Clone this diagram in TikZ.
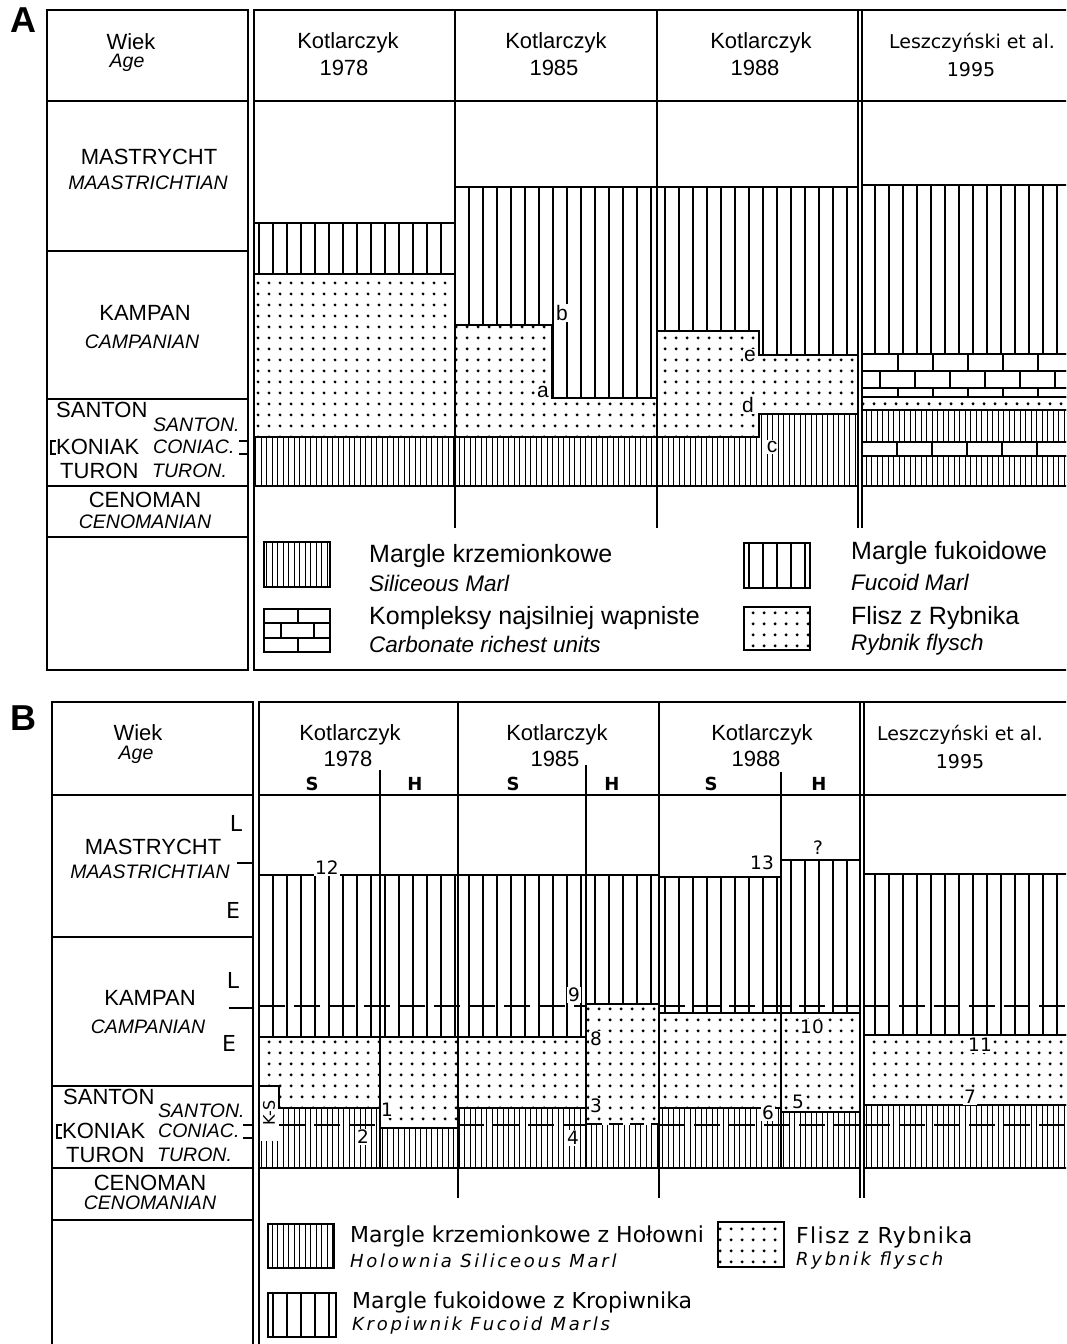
\documentclass[tikz,border=0pt]{standalone}
\usepackage{fontspec}
\setmainfont{Liberation Sans}
\newfontfamily\techfont{DejaVu Sans}
\newfontfamily\techmid{DejaVu Sans}[LetterSpace=6]
\newfontfamily\techwide{DejaVu Sans}[LetterSpace=15]
\usetikzlibrary{patterns}

% lithology fills (1pt = 1px)
\pgfdeclarepatternformonly{fucoidlines}{\pgfpoint{0pt}{-1pt}}{\pgfpoint{14pt}{11pt}}{\pgfpoint{14pt}{10pt}}{%
  \pgfsetlinewidth{1.6pt}%
  \pgfpathmoveto{\pgfpoint{7pt}{-1pt}}\pgfpathlineto{\pgfpoint{7pt}{11pt}}\pgfusepath{stroke}}
\pgfdeclarepatternformonly{siliclines}{\pgfpoint{0pt}{-1pt}}{\pgfpoint{5.5pt}{11pt}}{\pgfpoint{5.5pt}{10pt}}{%
  \pgfsetlinewidth{1.3pt}%
  \pgfpathmoveto{\pgfpoint{2.75pt}{-1pt}}\pgfpathlineto{\pgfpoint{2.75pt}{11pt}}\pgfusepath{stroke}}
\pgfdeclarepatternformonly{flyschdots}{\pgfpoint{0pt}{0pt}}{\pgfpoint{11pt}{11pt}}{\pgfpoint{11pt}{11pt}}{%
  \pgfpathcircle{\pgfpoint{5.5pt}{5.5pt}}{1.75pt}\pgfusepath{fill}}

\tikzset{
  frame/.style={line width=2.9pt},
  rule/.style={line width=2.3pt},
  hair/.style={line width=1.5pt},
  fucoid/.style={draw, line width=1.7pt, pattern=fucoidlines},
  silic/.style={draw, line width=1.7pt, pattern=siliclines},
  flysch/.style={draw, line width=1.7pt, pattern=flyschdots},
  brick/.style={line width=1.7pt},
  dashline/.style={line width=1.6pt, dash pattern=on 26pt off 9pt},
  panel/.style={font=\fontsize{36}{38}\selectfont\bfseries, inner sep=0pt},
  lab/.style={font=\fontsize{22}{24}\selectfont, inner sep=1pt},
  sublab/.style={font=\fontsize{19.5}{21}\selectfont\itshape, inner sep=1pt},
  leg/.style={font=\fontsize{25}{27}\selectfont, anchor=west, inner sep=0pt},
  subleg/.style={font=\fontsize{22.5}{24}\selectfont\itshape, anchor=west, inner sep=0pt},
  tech/.style={font=\techfont\fontsize{19}{21}\selectfont, inner sep=1pt},
  techleg/.style={font=\techfont\fontsize{22}{24}\selectfont, anchor=west, inner sep=0pt},
  techsub/.style={font=\techwide\fontsize{18}{20}\selectfont\itshape, anchor=west, inner sep=0pt},
  sh/.style={font=\techfont\fontsize{18}{20}\selectfont\bfseries, inner sep=1pt},
  num/.style={font=\techfont\fontsize{18.5}{20}\selectfont, fill=white, inner sep=1pt},
  letter/.style={font=\fontsize{21}{23}\selectfont, fill=white, inner sep=1pt}
}

\begin{document}
\begin{tikzpicture}[x=1pt,y=-1pt]
    \clip (0,0) rectangle (1066,1344);
    \fill[white] (0,0) rectangle (1066,1344);

    %%%%%%%%%%%%%%%% panel A %%%%%%%%%%%%%%%%
    \node[panel] (labA) at (23,20) {A};

    % Kotlarczyk 1978
    \draw[fucoid] (254,223) rectangle (455,274);
    \draw[flysch] (254,274) rectangle (455,437);
    \draw[silic]  (254,437) rectangle (455,486);

    % Kotlarczyk 1985
    \draw[fucoid] (455,187) -- (657,187) -- (657,398) -- (552,398) -- (552,325) -- (455,325) -- cycle;
    \draw[flysch] (455,325) -- (552,325) -- (552,398) -- (657,398) -- (657,437) -- (455,437) -- cycle;
    \draw[silic]  (455,437) rectangle (657,486);

    % Kotlarczyk 1988
    \draw[fucoid] (657,187) -- (858,187) -- (858,355) -- (759,355) -- (759,331) -- (657,331) -- cycle;
    \draw[flysch] (657,331) -- (759,331) -- (759,355) -- (858,355) -- (858,414) -- (759,414) -- (759,437) -- (657,437) -- cycle;
    \draw[silic]  (657,437) -- (759,437) -- (759,414) -- (858,414) -- (858,486) -- (657,486) -- cycle;

    % Leszczynski et al. 1995 (bricks = carbonate richest units)
    \draw[fucoid] (862,185) rectangle (1080,354);
    \foreach \ya/\yb/\xs in {354/371/898, 371/388/880, 388/397/898, 442/456/897} {
        \draw[brick] (862,\ya) rectangle (1080,\yb);
        \foreach \k in {0,...,5} \draw[brick] ({\xs+35*\k},\ya) -- ({\xs+35*\k},\yb);
    }
    \draw[flysch] (862,397) rectangle (1080,410);
    \draw[silic]  (862,410) rectangle (1080,442);
    \draw[silic]  (862,456) rectangle (1080,486);

    % boundary letters
    \node[letter] (la) at (543,392) {a};
    \node[letter] (lb) at (562,313) {b};
    \node[letter] (lc) at (772,447) {c};
    \node[letter] (ld) at (748,405) {d};
    \node[letter] (le) at (750,356) {e};

    % frames
    \draw[frame] (47,10) rectangle (248,670);
    \foreach \yy in {101,251,399,486,537} \draw[rule] (47,\yy) -- (248,\yy);
    \draw[frame] (254,10) rectangle (1080,670);
    \draw[rule] (254,101) -- (1080,101);
    \foreach \xx in {455,657,858,862} \draw[rule] (\xx,10) -- (\xx,528);
    \draw[hair] (56,441) -- (51,441) -- (51,454) -- (56,454);
    \draw[hair] (239,441) -- (248,441) (239,454) -- (248,454);

    % age column
    \node[lab] (wiekA) at (131,42) {Wiek};
    \node[sublab] (ageA) at (127,63) {Age};
    \node[lab] (mastA) at (149,157) {MASTRYCHT};
    \node[sublab] (maasA) at (148,183) {MAASTRICHTIAN};
    \node[lab] (kampA) at (145,313) {KAMPAN};
    \node[sublab] (campA) at (142,342) {CAMPANIAN};
    \node[lab, anchor=west] (santA) at (55,410) {SANTON};
    \node[sublab, anchor=west] (santiA) at (152,425) {SANTON.};
    \node[lab, anchor=west] (koniA) at (55,447) {KONIAK};
    \node[sublab, anchor=west] (coniA) at (152,447) {CONIAC.};
    \node[lab, anchor=west] (turA) at (59,471) {TURON};
    \node[sublab, anchor=west] (turiA) at (151,471) {TURON.};
    \node[lab] (cenA) at (145,500) {CENOMAN};
    \node[sublab] (ceniA) at (145,522) {CENOMANIAN};

    % column heads
    \node[lab] (k78A) at (348,43) {Kotlarczyk};
    \node[lab] (y78A) at (344,68) {1978};
    \node[lab] (k85A) at (556,43) {Kotlarczyk};
    \node[lab] (y85A) at (554,68) {1985};
    \node[lab] (k88A) at (761,43) {Kotlarczyk};
    \node[lab] (y88A) at (755,68) {1988};
    \node[tech] (l95A) at (972,43) {Leszczyński et al.};
    \node[tech] (y95A) at (971,70) {1995};

    % legend A
    \draw[silic] (264,542) rectangle (330,587);
    \draw[brick] (264,609) rectangle (330,652);
    \draw[brick] (264,623) -- (330,623) (264,638) -- (330,638)
                 (298,609) -- (298,623) (281,623) -- (281,638) (314,623) -- (314,638) (298,638) -- (298,652);
    \draw[fucoid] (744,543) rectangle (810,588);
    \draw[flysch] (744,607) rectangle (810,650);
    \node[leg] (lgA1) at (369,556) {Margle krzemionkowe};
    \node[subleg] (lgA1e) at (369,583) {Siliceous Marl};
    \node[leg] (lgA2) at (369,618) {Kompleksy najsilniej wapniste};
    \node[subleg] (lgA2e) at (369,644) {Carbonate richest units};
    \node[leg] (lgA3) at (851,553) {Margle fukoidowe};
    \node[subleg] (lgA3e) at (851,582) {Fucoid Marl};
    \node[leg] (lgA4) at (851,618) {Flisz z Rybnika};
    \node[subleg] (lgA4e) at (851,645) {Rybnik flysch};

    %%%%%%%%%%%%%%%% panel B %%%%%%%%%%%%%%%%
    \node[panel] (labB) at (23,718) {B};

    % fucoid marls
    \draw[fucoid] (259,875) rectangle (586,1037);
    \draw[fucoid] (586,875) rectangle (659,1004);
    \draw[fucoid] (659,877) rectangle (781,1013);
    \draw[fucoid] (781,860) rectangle (860,1013);
    \draw[fucoid] (864,874) rectangle (1080,1035);
    % Rybnik flysch
    \draw[flysch] (259,1037) rectangle (380,1108);
    \draw[flysch] (380,1037) rectangle (458,1128);
    \draw[flysch] (458,1037) rectangle (586,1108);
    \draw[flysch] (586,1004) rectangle (659,1124);
    \draw[flysch] (659,1013) rectangle (781,1108);
    \draw[flysch] (781,1013) rectangle (860,1112);
    \draw[flysch] (864,1035) rectangle (1080,1105);
    % siliceous marls
    \draw[silic] (259,1108) rectangle (380,1168);
    \draw[silic] (380,1128) rectangle (458,1168);
    \draw[silic] (458,1108) rectangle (586,1168);
    \draw[silic] (586,1124) rectangle (659,1168);
    \draw[silic] (659,1108) rectangle (781,1168);
    \draw[silic] (781,1112) rectangle (860,1168);
    \draw[silic] (864,1105) rectangle (1080,1168);
    % uncertain base of flysch at Kotlarczyk 1985 H
    \draw[white, line width=2.4pt] (588,1124) -- (657,1124);
    \draw[line width=1.7pt, dash pattern=on 14pt off 7pt] (588,1124) -- (657,1124);

    % L/E and Coniacian limits
    \foreach \xa/\xb in {259/586, 659/860, 864/1080} \draw[dashline] (\xa,1006) -- (\xb,1006);
    \foreach \xa/\xb in {279/380, 458/586, 659/860, 864/1080} \draw[dashline] (\xa,1125) -- (\xb,1125);

    % K-S gap
    \fill[white] (260,1087) rectangle (278,1141);
    \draw[hair] (259,1086) -- (279,1086) -- (279,1108);
    \node[num, rotate=90, font=\techfont\fontsize{16}{18}\selectfont] (ks) at (269,1113) {K-S};

    % section numbers
    \node[num] (n1) at (387,1110) {1};
    \node[num] (n2) at (363,1137) {2};
    \node[num] (n3) at (596,1106) {3};
    \node[num] (n4) at (573,1138) {4};
    \node[num] (n5) at (798,1102) {5};
    \node[num] (n6) at (768,1113) {6};
    \node[num] (n7) at (970,1097) {7};
    \node[num] (n8) at (596,1039) {8};
    \node[num] (n9) at (574,995) {9};
    \node[num] (n10) at (812,1027) {10};
    \node[num] (n11) at (980,1045) {11};
    \node[num] (n12) at (327,868) {12};
    \node[num] (n13) at (762,863) {13};
    \node[num] (nq) at (818,848) {?};

    % frames
    \draw[frame] (52,702) rectangle (253,1360);
    \foreach \yy in {795,937,1086,1168,1220} \draw[rule] (52,\yy) -- (253,\yy);
    \draw[frame] (259,702) rectangle (1080,1360);
    \draw[rule] (259,795) -- (1080,795);
    \foreach \xx in {458,659,860,864} \draw[rule] (\xx,702) -- (\xx,1198);
    \foreach \xx/\yt in {380/770, 586/765, 781/772} \draw[hair] (\xx,\yt) -- (\xx,1168);
    \draw[hair] (237,863) -- (253,863);
    \draw[hair] (229,1008) -- (253,1008);
    \draw[hair] (62,1125) -- (57,1125) -- (57,1138) -- (62,1138);
    \draw[hair] (243,1125) -- (253,1125) (243,1138) -- (253,1138);

    % age column
    \node[lab] (wiekB) at (138,733) {Wiek};
    \node[sublab] (ageB) at (136,755) {Age};
    \node[lab] (mastB) at (153,847) {MASTRYCHT};
    \node[sublab] (maasB) at (150,872) {MAASTRICHTIAN};
    \node[tech, font=\techfont\fontsize{22}{24}\selectfont] (lmB) at (236,823) {L};
    \node[tech, font=\techfont\fontsize{22}{24}\selectfont] (emB) at (233,910) {E};
    \node[lab] (kampB) at (150,998) {KAMPAN};
    \node[sublab] (campB) at (148,1027) {CAMPANIAN};
    \node[tech, font=\techfont\fontsize{22}{24}\selectfont] (lkB) at (233,980) {L};
    \node[tech, font=\techfont\fontsize{22}{24}\selectfont] (ekB) at (229,1043) {E};
    \node[lab, anchor=west] (santB) at (62,1097) {SANTON};
    \node[sublab, anchor=west] (santiB) at (157,1111) {SANTON.};
    \node[lab, anchor=west] (koniB) at (61,1131) {KONIAK};
    \node[sublab, anchor=west] (coniB) at (157,1131) {CONIAC.};
    \node[lab, anchor=west] (turB) at (65,1155) {TURON};
    \node[sublab, anchor=west] (turiB) at (156,1155) {TURON.};
    \node[lab] (cenB) at (150,1183) {CENOMAN};
    \node[sublab] (ceniB) at (150,1203) {CENOMANIAN};

    % column heads
    \node[lab] (k78B) at (350,735) {Kotlarczyk};
    \node[lab] (y78B) at (348,759) {1978};
    \node[sh] (s78) at (312,784) {S};
    \node[sh] (h78) at (415,784) {H};
    \node[lab] (k85B) at (557,735) {Kotlarczyk};
    \node[lab] (y85B) at (555,759) {1985};
    \node[sh] (s85) at (513,784) {S};
    \node[sh] (h85) at (612,784) {H};
    \node[lab] (k88B) at (762,735) {Kotlarczyk};
    \node[lab] (y88B) at (756,759) {1988};
    \node[sh] (s88) at (711,784) {S};
    \node[sh] (h88) at (819,784) {H};
    \node[tech] (l95B) at (960,735) {Leszczyński et al.};
    \node[tech] (y95B) at (960,762) {1995};

    % legend B
    \draw[silic] (268,1224) rectangle (334,1268);
    \draw[fucoid] (268,1293) rectangle (336,1337);
    \draw[flysch] (718,1222) rectangle (784,1267);
    \node[techleg] (lgB1) at (350,1236) {Margle krzemionkowe z Hołowni};
    \node[techsub] (lgB1e) at (350,1261) {Holownia Siliceous Marl};
    \node[techleg] (lgB2) at (352,1302) {Margle fukoidowe z Kropiwnika};
    \node[techsub] (lgB2e) at (352,1326) {Kropiwnik Fucoid Marls};
    \node[techleg, font=\techmid\fontsize{22}{24}\selectfont] (lgB3) at (796,1237) {Flisz z Rybnika};
    \node[techsub] (lgB3e) at (796,1261) {Rybnik flysch};
\end{tikzpicture}
\end{document}
